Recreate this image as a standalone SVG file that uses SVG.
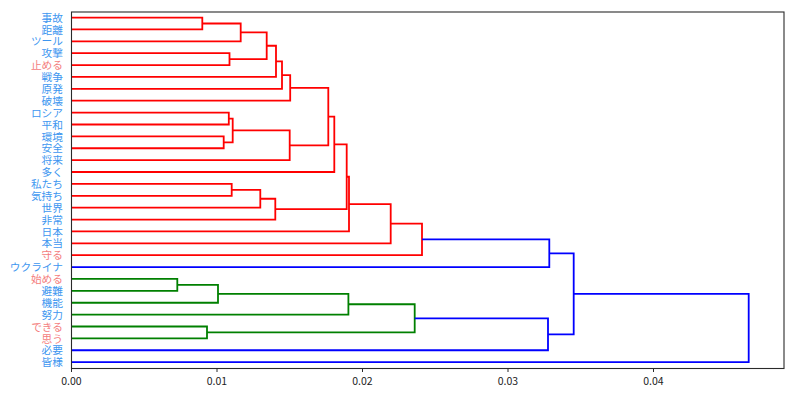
<svg xmlns="http://www.w3.org/2000/svg" width="800" height="406" viewBox="0 0 800 406">
<style>
.lbl{font-family:"Noto Sans CJK JP","Noto Sans CJK SC",sans-serif;font-size:10.7px;text-anchor:end}
.n{fill:#3d96f0}
.v{fill:#f47c7c}
.tick{font-family:"Noto Sans CJK JP","DejaVu Sans",sans-serif;font-size:10.5px;text-anchor:middle;fill:#222}
.r{fill:none;stroke:#ff0000;stroke-width:1.8}
.g{fill:none;stroke:#008000;stroke-width:1.8}
.b{fill:none;stroke:#0000ff;stroke-width:1.8}
</style>
<rect width="800" height="406" fill="#fff"/>
<g id="connectors">
<path class="r" d="M71.5 17.54H202.3V29.42H71.5"/>
<path class="r" d="M202.3 23.48H240.7V41.31H71.5"/>
<path class="r" d="M71.5 53.19H229.5V65.07H71.5"/>
<path class="r" d="M240.7 32.4H266.7V59.13H229.5"/>
<path class="r" d="M266.7 45.77H276V76.96H71.5"/>
<path class="r" d="M276 61.36H282V88.84H71.5"/>
<path class="r" d="M282 75.1H290.2V100.72H71.5"/>
<path class="r" d="M71.5 112.61H228.8V124.49H71.5"/>
<path class="r" d="M71.5 136.37H223.7V148.26H71.5"/>
<path class="r" d="M228.8 118.55H232.7V142.31H223.7"/>
<path class="r" d="M232.7 130.43H289.7V160.14H71.5"/>
<path class="r" d="M290.2 87.91H328.3V145.29H289.7"/>
<path class="r" d="M328.3 116.6H334.3V172.02H71.5"/>
<path class="r" d="M71.5 183.91H231.7V195.79H71.5"/>
<path class="r" d="M231.7 189.85H260.3V207.67H71.5"/>
<path class="r" d="M260.3 198.76H275.3V219.56H71.5"/>
<path class="r" d="M334.3 144.31H346.7V209.16H275.3"/>
<path class="r" d="M346.7 176.74H349V231.44H71.5"/>
<path class="r" d="M349 204.09H390.7V243.32H71.5"/>
<path class="r" d="M390.7 223.7H422V255.21H71.5"/>
<path class="b" d="M422 239.46H549.3V267.09H71.5"/>
<path class="g" d="M71.5 278.97H177.3V290.86H71.5"/>
<path class="g" d="M177.3 284.92H218V302.74H71.5"/>
<path class="g" d="M218 293.83H348.4V314.62H71.5"/>
<path class="g" d="M71.5 326.51H207V338.39H71.5"/>
<path class="g" d="M348.4 304.23H414.7V332.45H207"/>
<path class="b" d="M414.7 318.34H548V350.27H71.5"/>
<path class="b" d="M549.3 253.28H573.7V334.3H548"/>
<path class="b" d="M573.7 293.79H748.7V362.16H71.5"/>
</g>
<g id="axes">
<rect x="71.5" y="12" width="712.5" height="356.5" fill="none" stroke="#2a2a2a" stroke-width="1.1"/>
<path d="M71.5 368.5v3.5M217 368.5v3.5M362.5 368.5v3.5M508 368.5v3.5M653.5 368.5v3.5" stroke="#2a2a2a" stroke-width="1"/>
<text class="tick" x="71.5" y="385">0.00</text>
<text class="tick" x="217" y="385">0.01</text>
<text class="tick" x="362.5" y="385">0.02</text>
<text class="tick" x="508" y="385">0.03</text>
<text class="tick" x="653.5" y="385">0.04</text>
</g>
<g id="leaf0"><text class="lbl n" x="63" y="21.6">事故</text></g>
<g id="leaf1"><text class="lbl n" x="63" y="33.5">距離</text></g>
<g id="leaf2"><text class="lbl n" x="63" y="45.4">ツール</text></g>
<g id="leaf3"><text class="lbl n" x="63" y="57.3">攻撃</text></g>
<g id="leaf4"><text class="lbl v" x="63" y="69.2">止める</text></g>
<g id="leaf5"><text class="lbl n" x="63" y="81.0">戦争</text></g>
<g id="leaf6"><text class="lbl n" x="63" y="92.9">原発</text></g>
<g id="leaf7"><text class="lbl n" x="63" y="104.8">破壊</text></g>
<g id="leaf8"><text class="lbl n" x="63" y="116.7">ロシア</text></g>
<g id="leaf9"><text class="lbl n" x="63" y="128.6">平和</text></g>
<g id="leaf10"><text class="lbl n" x="63" y="140.5">環境</text></g>
<g id="leaf11"><text class="lbl n" x="63" y="152.4">安全</text></g>
<g id="leaf12"><text class="lbl n" x="63" y="164.2">将来</text></g>
<g id="leaf13"><text class="lbl n" x="63" y="176.1">多く</text></g>
<g id="leaf14"><text class="lbl n" x="63" y="188.0">私たち</text></g>
<g id="leaf15"><text class="lbl n" x="63" y="199.9">気持ち</text></g>
<g id="leaf16"><text class="lbl n" x="63" y="211.8">世界</text></g>
<g id="leaf17"><text class="lbl n" x="63" y="223.7">非常</text></g>
<g id="leaf18"><text class="lbl n" x="63" y="235.5">日本</text></g>
<g id="leaf19"><text class="lbl n" x="63" y="247.4">本当</text></g>
<g id="leaf20"><text class="lbl v" x="63" y="259.3">守る</text></g>
<g id="leaf21"><text class="lbl n" x="63" y="271.2">ウクライナ</text></g>
<g id="leaf22"><text class="lbl v" x="63" y="283.1">始める</text></g>
<g id="leaf23"><text class="lbl n" x="63" y="295.0">避難</text></g>
<g id="leaf24"><text class="lbl n" x="63" y="306.8">機能</text></g>
<g id="leaf25"><text class="lbl n" x="63" y="318.7">努力</text></g>
<g id="leaf26"><text class="lbl v" x="63" y="330.6">できる</text></g>
<g id="leaf27"><text class="lbl v" x="63" y="342.5">思う</text></g>
<g id="leaf28"><text class="lbl n" x="63" y="354.4">必要</text></g>
<g id="leaf29"><text class="lbl n" x="63" y="366.3">皆様</text></g>
</svg>
